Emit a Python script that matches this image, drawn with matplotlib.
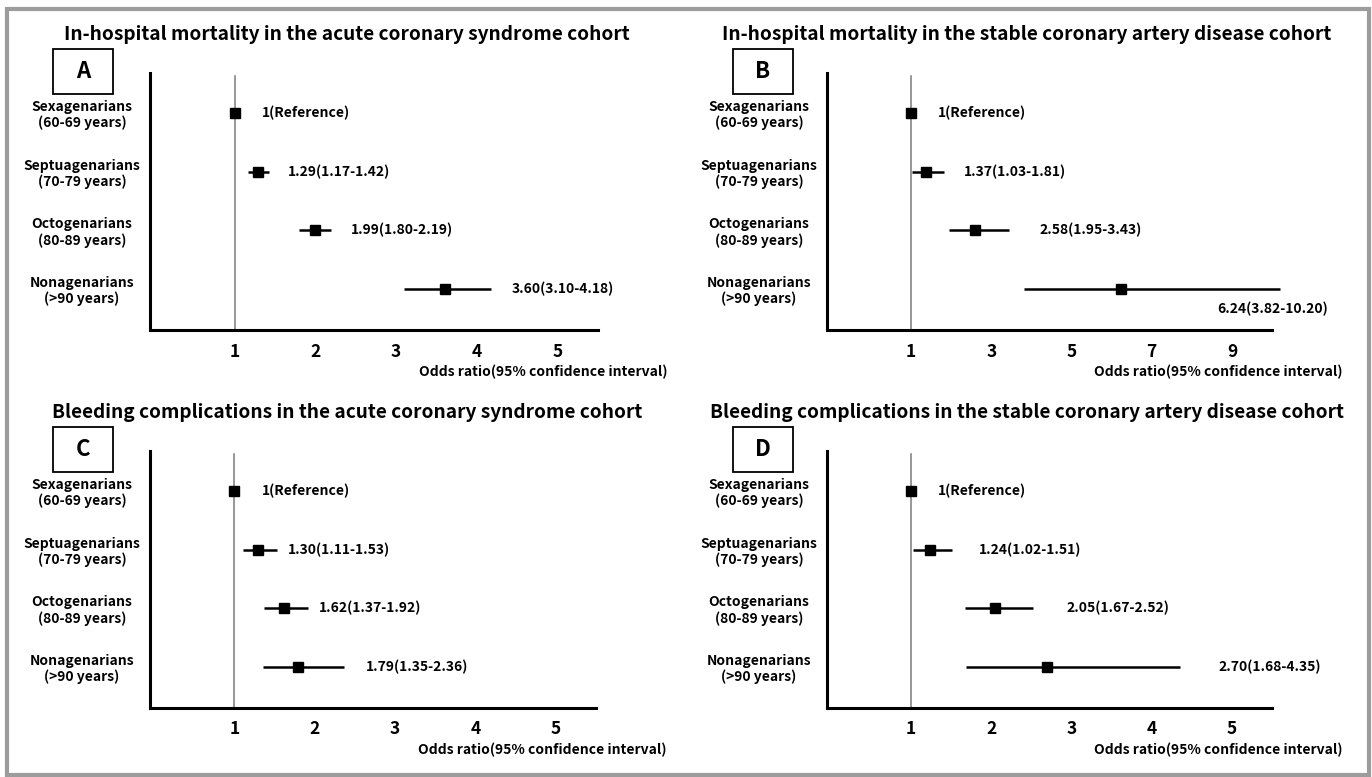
import matplotlib.pyplot as plt
from matplotlib.patches import Rectangle

plt.rcParams['font.family'] = ['Liberation Sans Narrow', 'Noto Sans CJK JP', 'DejaVu Sans']
plt.rcParams['font.weight'] = 'bold'

W, H = 1372, 777

# age groups, top to bottom
groups = ["Sexagenarians\n(60-69 years)", "Septuagenarians\n(70-79 years)",
          "Octogenarians\n(80-89 years)", "Nonagenarians\n(>90 years)"]

# odds ratios and 95% CI per panel
or_a = [1, 1.29, 1.99, 3.60]
lo_a = [1, 1.17, 1.80, 3.10]
hi_a = [1, 1.42, 2.19, 4.18]

or_b = [1, 1.37, 2.58, 6.24]
lo_b = [1, 1.03, 1.95, 3.82]
hi_b = [1, 1.81, 3.43, 10.20]

or_c = [1, 1.30, 1.62, 1.79]
lo_c = [1, 1.11, 1.37, 1.35]
hi_c = [1, 1.53, 1.92, 2.36]

or_d = [1, 1.24, 2.05, 2.70]
lo_d = [1, 1.02, 1.67, 1.68]
hi_d = [1, 1.51, 2.52, 4.35]

titles = ["In-hospital mortality in the acute coronary syndrome cohort",
          "In-hospital mortality in the stable coronary artery disease cohort",
          "Bleeding complications in the acute coronary syndrome cohort",
          "Bleeding complications in the stable coronary artery disease cohort"]
letters = ["A", "B", "C", "D"]


def fmt(o, l, h):
    if o == 1 and l == 1 and h == 1:
        return "1(Reference)"
    return f"{o:.2f}({l:.2f}-{h:.2f})"


# layout per panel (pixels): axes box, x range, ticks, label gaps
panels = [
    dict(data=(or_a, lo_a, hi_a), box=(150, 73, 448, 257), xlim=(-0.05, 5.5),
         ticks=[1, 2, 3, 4, 5], gaps=[27, 19, 20, 20], cx=347, cy=35),
    dict(data=(or_b, lo_b, hi_b), box=(827, 73, 445, 257), xlim=(-1.1, 10.0),
         ticks=[1, 3, 5, 7, 9], gaps=[27, 20, 31, None], cx=1027, cy=35),
    dict(data=(or_c, lo_c, hi_c), box=(150, 451, 446, 257), xlim=(-0.05, 5.5),
         ticks=[1, 2, 3, 4, 5], gaps=[27, 11, 11, 22], cx=347, cy=413),
    dict(data=(or_d, lo_d, hi_d), box=(827, 451, 445, 257), xlim=(-0.05, 5.5),
         ticks=[1, 2, 3, 4, 5], gaps=[27, 27, 33, 39], cx=1027, cy=413),
]

fig = plt.figure(figsize=(W / 100, H / 100), dpi=100)

# grey outer frame
fig.add_artist(Rectangle((7 / W, 1 - 775 / H), 1362 / W, 766 / H, transform=fig.transFigure,
                         fill=False, edgecolor='#9c9c9c', lw=3))

ypos = [3, 2, 1, 0]
for i, p in enumerate(panels):
    x0, y0, w, h = p['box']
    ax = fig.add_axes([x0 / W, 1 - (y0 + h) / H, w / W, h / H])
    ors, los, his = p['data']

    ax.axvline(1, ymax=0.99, color='#7a7a7a', lw=1.1, zorder=1)
    ax.hlines(ypos, los, his, color='black', lw=1.8, clip_on=False, zorder=2)
    ax.plot(ors, ypos, 's', color='black', ms=7, zorder=3, clip_on=False)

    for k in range(4):
        label = fmt(ors[k], los[k], his[k])
        if p['gaps'][k] is None:
            # long interval: label sits below the line, at the right
            ax.annotate(label, (1, ypos[k]), xycoords=('axes fraction', 'data'),
                        xytext=(56, -20), textcoords='offset pixels',
                        ha='right', va='center', fontsize=10)
        else:
            ax.annotate(label, (his[k], ypos[k]), xytext=(p['gaps'][k], 0),
                        textcoords='offset pixels', ha='left', va='center', fontsize=10)

    ax.set_xlim(p['xlim'])
    ax.set_ylim(-0.70, 3.68)
    ax.set_xticks(p['ticks'])
    ax.set_xticklabels([str(t) for t in p['ticks']], fontsize=12.5, fontweight='bold')
    ax.set_yticks(ypos)
    ax.set_yticklabels(groups, fontsize=10, fontweight='bold', linespacing=1.15)
    for t in ax.get_yticklabels():
        t.set_ha('center')
    ax.tick_params(axis='y', length=0, pad=49)
    ax.tick_params(axis='x', length=0, pad=9)
    for s in ['top', 'right']:
        ax.spines[s].set_visible(False)
    for s in ['left', 'bottom']:
        ax.spines[s].set_linewidth(2.2)

    ax.annotate("Odds ratio(95% confidence interval)", (1, 0), xycoords='axes fraction',
                xytext=(70, -42), textcoords='offset pixels', ha='right', va='center', fontsize=10)

    fig.text(p['cx'] / W, 1 - p['cy'] / H, titles[i], ha='center', va='center', fontsize=13.7,
             fontweight='bold')

    # panel letter box
    bx = 53 if x0 < 500 else 733
    by = y0 - 24
    fig.add_artist(Rectangle((bx / W, 1 - (by + 45) / H), 60 / W, 45 / H, transform=fig.transFigure,
                             fill=False, edgecolor='black', lw=1.3))
    fig.text((bx + 30) / W, 1 - (by + 22.5) / H, letters[i], ha='center', va='center',
             fontsize=16, fontweight='bold')

fig.savefig("out.png", dpi=100)
